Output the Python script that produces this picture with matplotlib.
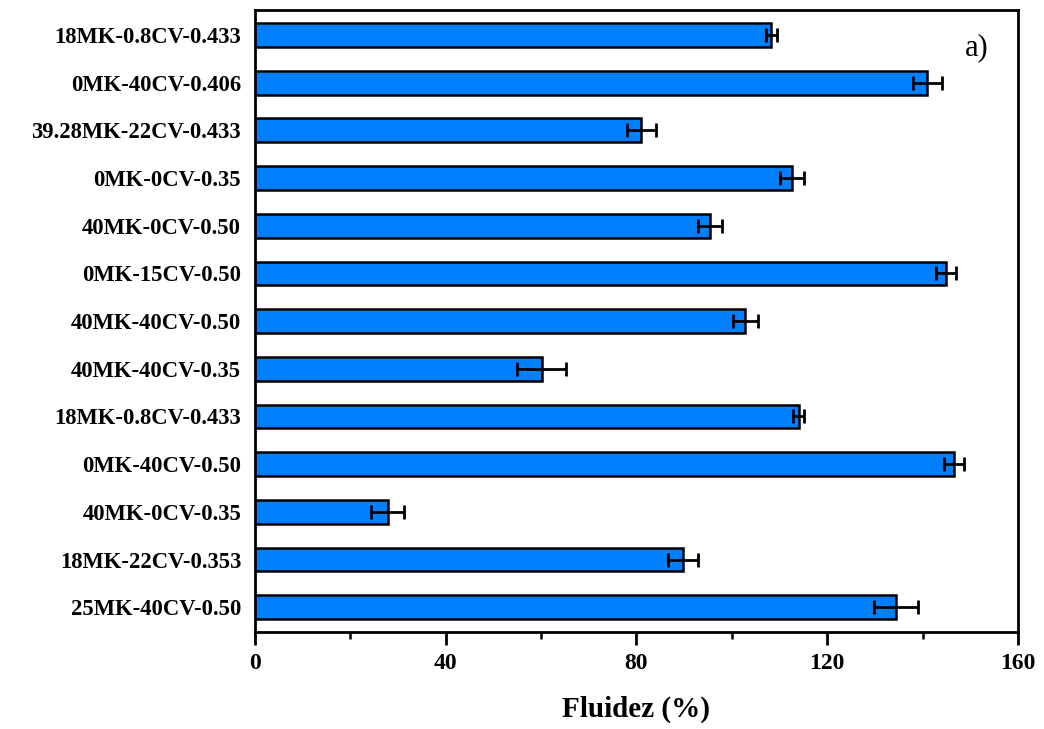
import matplotlib.pyplot as plt
import numpy as np
from matplotlib.ticker import MultipleLocator

# samples, top to bottom as in the figure
labels = [
    "18MK-0.8CV-0.433",
    "0MK-40CV-0.406",
    "39.28MK-22CV-0.433",
    "0MK-0CV-0.35",
    "40MK-0CV-0.50",
    "0MK-15CV-0.50",
    "40MK-40CV-0.50",
    "40MK-40CV-0.35",
    "18MK-0.8CV-0.433",
    "0MK-40CV-0.50",
    "40MK-0CV-0.35",
    "18MK-22CV-0.353",
    "25MK-40CV-0.50",
]
fluidez = [108.3, 141.0, 81.0, 112.6, 95.5, 145.0, 102.8, 60.1, 114.0, 146.6, 27.8, 89.7, 134.4]
fluidez_err = [1.1, 3.1, 3.0, 2.5, 2.5, 2.1, 2.6, 5.1, 1.1, 2.1, 3.4, 3.1, 4.6]

plt.rcParams["font.family"] = ["Liberation Serif", "DejaVu Serif"]
plt.rcParams["font.weight"] = "bold"

fig = plt.figure(figsize=(10.44, 7.29), dpi=100)
ax = fig.add_axes([0.2443, 0.133, 0.7307, 0.853])

y = np.arange(len(labels))
ax.barh(y, fluidez, height=0.5, color="#0080FF", edgecolor="black", linewidth=1.8,
        xerr=fluidez_err, error_kw=dict(ecolor="black", elinewidth=2, capsize=5, capthick=2))

ax.set_yticks(y)
ax.set_yticklabels(labels, fontsize=16.3, fontweight="bold")
ax.set_ylim(len(labels) - 0.48, -0.52)

ax.set_xlim(0, 160)
ax.xaxis.set_major_locator(MultipleLocator(40))
ax.xaxis.set_minor_locator(MultipleLocator(20))
ax.tick_params(axis="x", which="major", direction="out", length=9, width=2, labelsize=17, pad=6)
ax.tick_params(axis="x", which="minor", direction="out", length=5, width=1.8)
ax.tick_params(axis="y", which="both", length=0, pad=10)
for t in ax.get_xticklabels():
    t.set_fontweight("bold")

for s in ax.spines.values():
    s.set_linewidth(2)

ax.set_xlabel("Fluidez (%)", fontsize=21, fontweight="bold", labelpad=16)
ax.text(0.93, 0.94, "a)", transform=ax.transAxes, fontsize=22, fontweight="normal",
        ha="left", va="center")

fig.savefig("out.png", dpi=100)
